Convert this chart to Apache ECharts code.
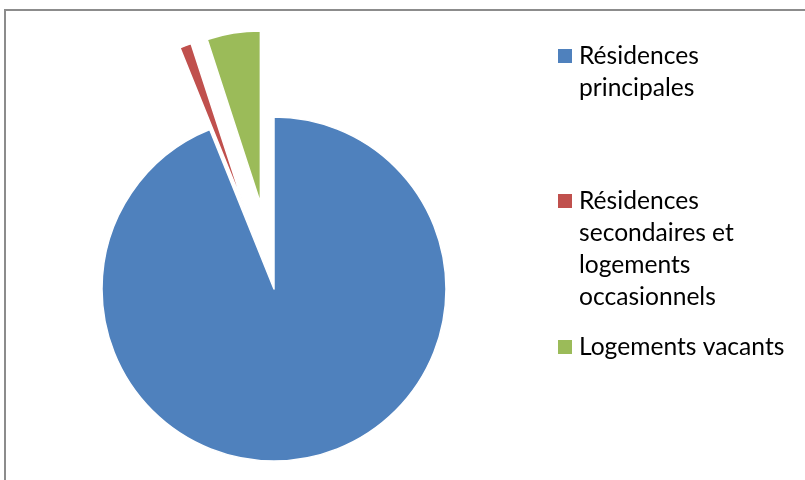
<!DOCTYPE html>
<html>
<head>
<meta charset="utf-8">
<script src="https://cdn.jsdelivr.net/npm/echarts@6/dist/echarts.min.js"></script>
<style>
  html, body { margin: 0; padding: 0; background: #fff; }
  #chart { width: 805px; height: 480px; }
</style>
</head>
<body>
<div id="chart"></div>
<script>
// Housing stock by type (share of dwellings, %)
const categories = [
  'Résidences principales',
  'Résidences secondaires et logements occasionnels',
  'Logements vacants'
];
const legendLabels = [
  'Résidences\nprincipales',
  'Résidences\nsecondaires et\nlogements\noccasionnels',
  'Logements vacants'
];
const shares = [93.9, 1.1, 5.0];
const colors = ['#4F81BD', '#C0504D', '#9BBB59'];
const exploded = [false, true, true];

const FONT = 'Lato, "Open Sans", sans-serif';
const LINE_H = 32;
// swatch centre (y) of each legend entry
const legendCenters = [56, 201, 347];

const chart = echarts.init(document.getElementById('chart'), null, { renderer: 'canvas' });

// One legend per entry; blank lines ahead of the label keep the swatch
// level with the first text line (legend text is centred on its swatch).
const legends = categories.map((name, i) => {
  const lines = legendLabels[i].split('\n');
  const n = lines.length;
  const padded = Array(n - 1).fill(' ').concat(lines).join('\n');
  const blockH = (2 * n - 1) * LINE_H;
  return {
    data: [name],
    orient: 'vertical',
    left: 558,
    top: legendCenters[i] - blockH / 2,
    padding: 0,
    itemWidth: 14,
    itemHeight: 14,
    icon: 'rect',
    selectedMode: false,
    formatter: () => padded,
    textStyle: {
      fontFamily: FONT,
      fontSize: 24.6,
      color: '#000',
      lineHeight: LINE_H,
      padding: [0, 0, 0, 2]
    },
    itemStyle: { borderWidth: 0 }
  };
});

chart.setOption({
  animation: false,
  backgroundColor: '#fff',
  color: colors,
  legend: legends,
  graphic: [{
    type: 'rect',
    shape: { x: 5, y: 10, width: 900, height: 600 },
    style: { fill: 'none', stroke: '#8c8c8c', lineWidth: 2 },
    silent: true,
    z: 0
  }],
  series: [{
    type: 'pie',
    center: [274, 289],
    radius: 172,
    startAngle: 90,
    clockwise: true,
    selectedMode: 'multiple',
    selectedOffset: 87,
    label: { show: false },
    labelLine: { show: false },
    itemStyle: { borderColor: '#fff', borderWidth: 1.5 },
    emphasis: { disabled: true },
    data: categories.map((name, i) => ({
      name,
      value: shares[i],
      selected: exploded[i],
      itemStyle: { color: colors[i] }
    }))
  }]
});
</script>
</body>
</html>
